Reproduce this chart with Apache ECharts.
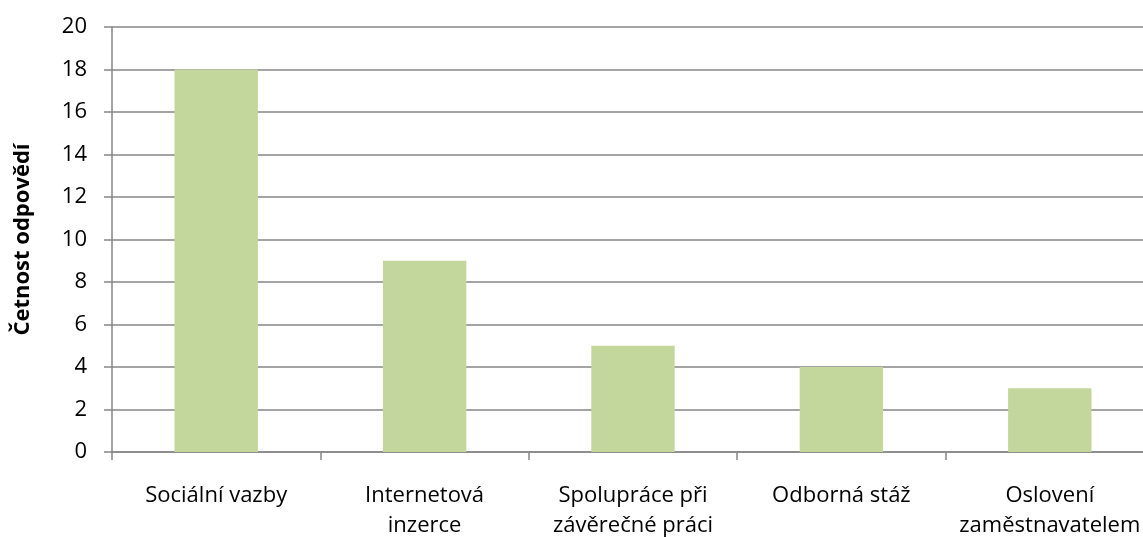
<!DOCTYPE html>
<html><head><meta charset="utf-8">
<script src="https://cdn.jsdelivr.net/npm/echarts@6/dist/echarts.min.js"></script>
<style>html,body{margin:0;padding:0;background:#fff;overflow:hidden;width:1143px;height:537px}#c{width:1160px;height:537px}</style>
</head><body><div id="c"></div>
<script>
const categories = ['Sociální vazby', 'Internetová\ninzerce', 'Spolupráce při\nzávěrečné práci', 'Odborná stáž', 'Oslovení\nzaměstnavatelem'];
const values = [18, 9, 5, 4, 3];
const yTicks = { min: 0, max: 20, interval: 2 };
const yName = 'Četnost odpovědí';

const chart = echarts.init(document.getElementById('c'));
const font = '"Open Sans", sans-serif';
chart.setOption({
  animation: false,
  grid: { left: 112, right: 6, top: 27, height: 425, containLabel: false, outerBoundsMode: 'none' },
  xAxis: {
    type: 'category', data: categories,
    axisLine: { lineStyle: { color: '#868686', width: 1.5 } },
    axisTick: { show: true, length: 8, lineStyle: { color: '#868686', width: 1.5 } },
    axisLabel: { color: '#000', fontSize: 22, fontFamily: font, margin: 29, lineHeight: 30, interval: 0 }
  },
  yAxis: {
    type: 'value', min: yTicks.min, max: yTicks.max, interval: yTicks.interval,
    name: yName, nameLocation: 'middle', nameGap: 78, nameRotate: 90,
    nameTextStyle: { fontSize: 22, fontWeight: 'bold', fontFamily: font, color: '#000' },
    axisLine: { show: true, lineStyle: { color: '#868686', width: 1.5 } },
    axisTick: { show: true, length: 8, lineStyle: { color: '#868686', width: 1.5 } },
    axisLabel: { color: '#000', fontSize: 22, fontFamily: font, margin: 25 },
    splitLine: { lineStyle: { color: '#868686', width: 1.5 } }
  },
  series: [{
    type: 'bar', data: values, barCategoryGap: '60%',
    itemStyle: { color: '#C3D69B' }
  }]
});
</script></body></html>
